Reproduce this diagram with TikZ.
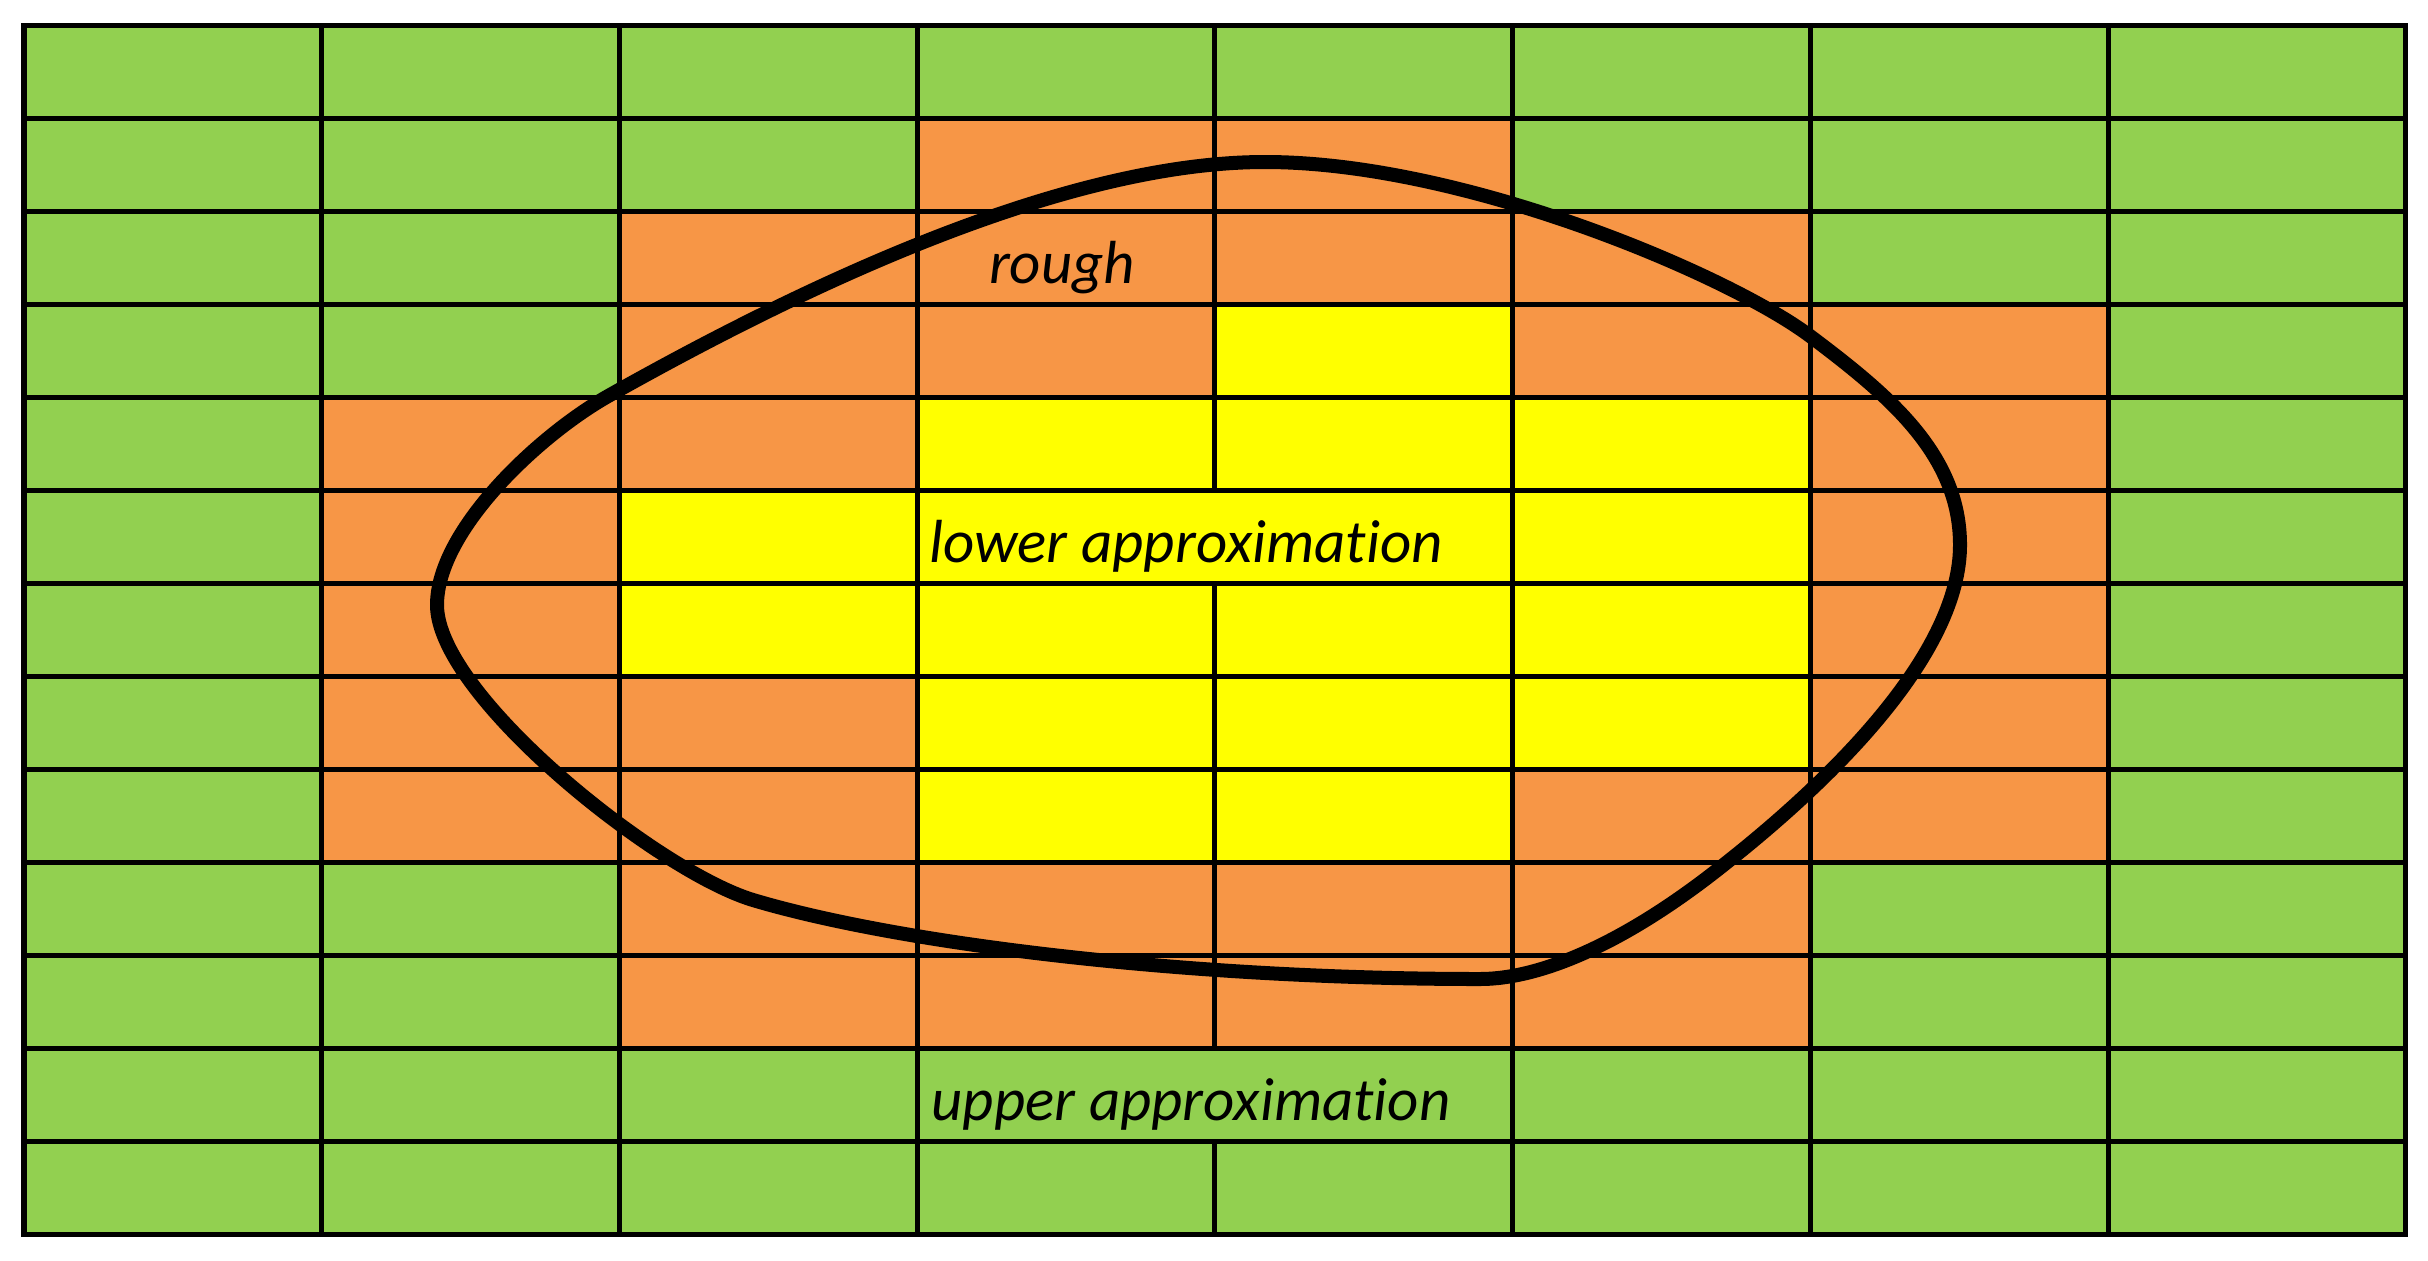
\documentclass[tikz,border=0pt]{standalone}
\usepackage{fontspec}
\setmainfont{Carlito}[Ligatures={NoCommon}]
\definecolor{cG}{HTML}{92D050}
\definecolor{cO}{HTML}{F79646}
\definecolor{cY}{HTML}{FFFF00}
\begin{document}
\begin{tikzpicture}[x=0.01cm,y=-0.01cm,
  gridline/.style={line width=0.05cm, black},
  setline/.style={line width=0.14cm, black, line join=round},
  lbl/.style={font=\fontsize{17.3}{21}\selectfont\itshape, inner sep=0pt, anchor=base, text=black}]
\useasboundingbox (0,0) rectangle (2428,1260);
\fill[white] (0,0) rectangle (2428,1260);
\def\cw{297.71}\def\rh{92.97}\def\ox{24}\def\oy{25.7}
% cells
\foreach \rowlist [count=\r from 0] in {
  {G,G,G,G,G,G,G,G},
  {G,G,G,O,O,G,G,G},
  {G,G,O,O,O,O,G,G},
  {G,G,O,O,Y,O,O,G},
  {G,O,O,Y,Y,Y,O,G},
  {G,O,Y,Y,Y,Y,O,G},
  {G,O,Y,Y,Y,Y,O,G},
  {G,O,O,Y,Y,Y,O,G},
  {G,O,O,Y,Y,O,O,G},
  {G,G,O,O,O,O,G,G},
  {G,G,O,O,O,O,G,G},
  {G,G,G,G,G,G,G,G},
  {G,G,G,G,G,G,G,G}}{
  \foreach \c [count=\k from 0] in \rowlist {
    \fill[c\c] ({\ox+\k*\cw},{\oy+\r*\rh}) rectangle ++(\cw,\rh);
  }
}
% horizontal lines
\foreach \j in {1,...,12}
  \draw[gridline] (\ox,{\oy+\j*\rh}) -- ({\ox+8*\cw},{\oy+\j*\rh});
% vertical lines
\foreach \i in {1,2,3,5,6,7}
  \draw[gridline] ({\ox+\i*\cw},\oy) -- ({\ox+\i*\cw},{\oy+13*\rh});
\draw[gridline] ({\ox+4*\cw},\oy) -- ({\ox+4*\cw},{\oy+5*\rh});
\draw[gridline] ({\ox+4*\cw},{\oy+6*\rh}) -- ({\ox+4*\cw},{\oy+11*\rh});
\draw[gridline] ({\ox+4*\cw},{\oy+12*\rh}) -- ({\ox+4*\cw},{\oy+13*\rh});
% border
\draw[gridline] (\ox,\oy) rectangle ({\ox+8*\cw},{\oy+13*\rh});
% set boundary
\draw[setline] (437,605) .. controls (437,530) and (540,434) .. (610,395)
  .. controls (827.5,272.5) and (1075,162) .. (1265,162)
  .. controls (1465,162) and (1730,276) .. (1810,336)
  .. controls (1890,396) and (1960,455) .. (1960,545)
  .. controls (1960,650) and (1841,772) .. (1726,863)
  .. controls (1625,944) and (1540,979) .. (1480,979)
  .. controls (1180,979) and (897,943) .. (753,900)
  .. controls (657,871) and (437,695) .. (437,605) -- cycle;
% labels
\node[lbl] (rough) at (1062,283) {rough};
\node[lbl] (lower) at (1186,562) {lower approximation};
\node[lbl] (upper) at (1191,1120) {upper approximation};
\end{tikzpicture}
\end{document}
